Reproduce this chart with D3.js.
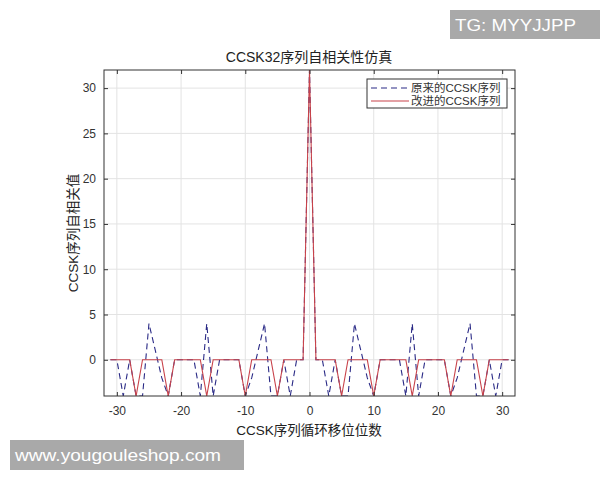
<!DOCTYPE html>
<html><head><meta charset="utf-8">
<script src="https://cdn.jsdelivr.net/npm/d3@7"></script>
<style>body{margin:0;background:#fff;} svg{display:block;}</style>
</head><body>
<svg id="c" width="600" height="480"></svg>
<script>
// ---- data ----
const lags = [-31,-30,-29,-28,-27,-26,-25,-24,-23,-22,-21,-20,-19,-18,-17,-16,-15,-14,-13,-12,-11,-10,-9,-8,-7,-6,-5,-4,-3,-2,-1,
  0,1,2,3,4,5,6,7,8,9,10,11,12,13,14,15,16,17,18,19,20,21,22,23,24,25,26,27,28,29,30,31];
const original = [0,0,-4,0,-4,-4,4,1,-2,-4,0,0,0,0,-4,4,-4,0,0,0,0,-4,-2,1,4,-4,-4,0,-4,0,0,
  32,0,0,-4,0,-4,-4,4,1,-2,-4,0,0,0,0,-4,4,-4,0,0,0,0,-4,-2,1,4,-4,-4,0,-4,0,0];
const improved = [0,0,0,0,-4,0,0,0,0,-4,0,0,0,0,0,-4,0,0,0,0,0,-4,0,0,0,0,-4,0,0,0,0,
  32,0,0,0,0,-4,0,0,0,0,-4,0,0,0,0,0,-4,0,0,0,0,0,-4,0,0,0,0,-4,0,0,0,0];
const xTicks = [-30,-20,-10,0,10,20,30];
const yTicks = [0,5,10,15,20,25,30];
const seriesNames = ["原来的CCSK序列","改进的CCSK序列"];
const titleText = "CCSK32序列自相关性仿真";
const xLabel = "CCSK序列循环移位位数";
const yLabel = "CCSK序列自相关值";

const FONT = "'Liberation Sans','Noto Sans CJK SC',sans-serif";
const svg = d3.select("#c");
const L=104, R=515, T=70, B=396;
const x = d3.scaleLinear().domain([-32,32]).range([L,R]);
const y = d3.scaleLinear().domain([-4,32]).range([B,T]);

// grid
const g = svg.append("g");
g.selectAll(".gx").data(xTicks).join("line")
  .attr("x1",d=>x(d)).attr("x2",d=>x(d)).attr("y1",T).attr("y2",B)
  .attr("stroke","#e3e3e3").attr("stroke-width",1);
g.selectAll(".gy").data(yTicks).join("line")
  .attr("x1",L).attr("x2",R).attr("y1",d=>y(d)).attr("y2",d=>y(d))
  .attr("stroke","#e3e3e3").attr("stroke-width",1);

// clip
svg.append("clipPath").attr("id","clip").append("rect")
  .attr("x",L).attr("y",T).attr("width",R-L).attr("height",B-T);

const line = d3.line().x(d=>x(d[0])).y(d=>y(d[1]));
const plot = svg.append("g").attr("clip-path","url(#clip)");
plot.append("path").datum(lags.map((k,i)=>[k,original[i]]))
  .attr("d",line).attr("fill","none").attr("stroke","#2a2a86").attr("stroke-width",1.1)
  .attr("stroke-dasharray","6,4");
plot.append("path").datum(lags.map((k,i)=>[k,improved[i]]))
  .attr("d",line).attr("fill","none").attr("stroke","#c8424a").attr("stroke-width",1.1);

// axes
const fmt = d => String(d);
const ax = svg.append("g").attr("transform",`translate(0,${B})`)
  .call(d3.axisBottom(x).tickValues(xTicks).tickSize(-4).tickPadding(10).tickFormat(fmt));
const ay = svg.append("g").attr("transform",`translate(${L},0)`)
  .call(d3.axisLeft(y).tickValues(yTicks).tickSize(-4).tickPadding(8).tickFormat(fmt));
const axT = svg.append("g").attr("transform",`translate(0,${T})`)
  .call(d3.axisTop(x).tickValues(xTicks).tickSize(-4).tickFormat(""));
const ayR = svg.append("g").attr("transform",`translate(${R},0)`)
  .call(d3.axisRight(y).tickValues(yTicks).tickSize(-4).tickFormat(""));
[ax,ay,axT,ayR].forEach(a=>{
  a.select(".domain").remove();
  a.selectAll("line").attr("stroke","#333");
  a.selectAll("text").attr("font-family",FONT).attr("font-size",12).attr("fill","#333");
});
svg.append("rect").attr("x",L).attr("y",T).attr("width",R-L).attr("height",B-T)
  .attr("fill","none").attr("stroke","#333").attr("stroke-width",1);

// titles
svg.append("text").attr("x",309).attr("y",62).attr("text-anchor","middle")
  .attr("font-family",FONT).attr("font-size",14).attr("fill","#222").text(titleText);
svg.append("text").attr("x",309).attr("y",435).attr("text-anchor","middle")
  .attr("font-family",FONT).attr("font-size",13.5).attr("fill","#222").text(xLabel);
svg.append("text").attr("transform","translate(78,233) rotate(-90)").attr("text-anchor","middle")
  .attr("font-family",FONT).attr("font-size",13.5).attr("fill","#222").text(yLabel);

// legend
const lg = svg.append("g");
lg.append("rect").attr("x",367).attr("y",79).attr("width",140).attr("height",29)
  .attr("fill","#fff").attr("stroke","#333").attr("stroke-width",1);
const legendStyles = [{c:"#2a2a86",dash:"6,4"},{c:"#c8424a",dash:null}];
seriesNames.forEach((n,i)=>{
  const yy = 88 + i*13;
  lg.append("line").attr("x1",371).attr("x2",409).attr("y1",yy).attr("y2",yy)
    .attr("stroke",legendStyles[i].c).attr("stroke-width",1.1)
    .attr("stroke-dasharray",legendStyles[i].dash);
  lg.append("text").attr("x",411).attr("y",yy+4).attr("font-family",FONT)
    .attr("font-size",11.5).attr("fill","#333").text(n);
});

// watermarks
svg.append("rect").attr("x",450).attr("y",10).attr("width",150).attr("height",29).attr("fill","#a9a9a9");
svg.append("text").attr("x",455).attr("y",31).attr("font-family","'Liberation Sans',sans-serif")
  .attr("font-size",17).attr("fill","#fff").attr("textLength",121)
  .attr("lengthAdjust","spacingAndGlyphs").text("TG: MYYJJPP");
svg.append("rect").attr("x",10).attr("y",440).attr("width",234).attr("height",30).attr("fill","#a9a9a9");
svg.append("text").attr("x",15).attr("y",461).attr("font-family","'Liberation Sans',sans-serif")
  .attr("font-size",17).attr("fill","#fff").attr("textLength",206)
  .attr("lengthAdjust","spacingAndGlyphs").text("www.yougouleshop.com");
</script>
</body></html>
